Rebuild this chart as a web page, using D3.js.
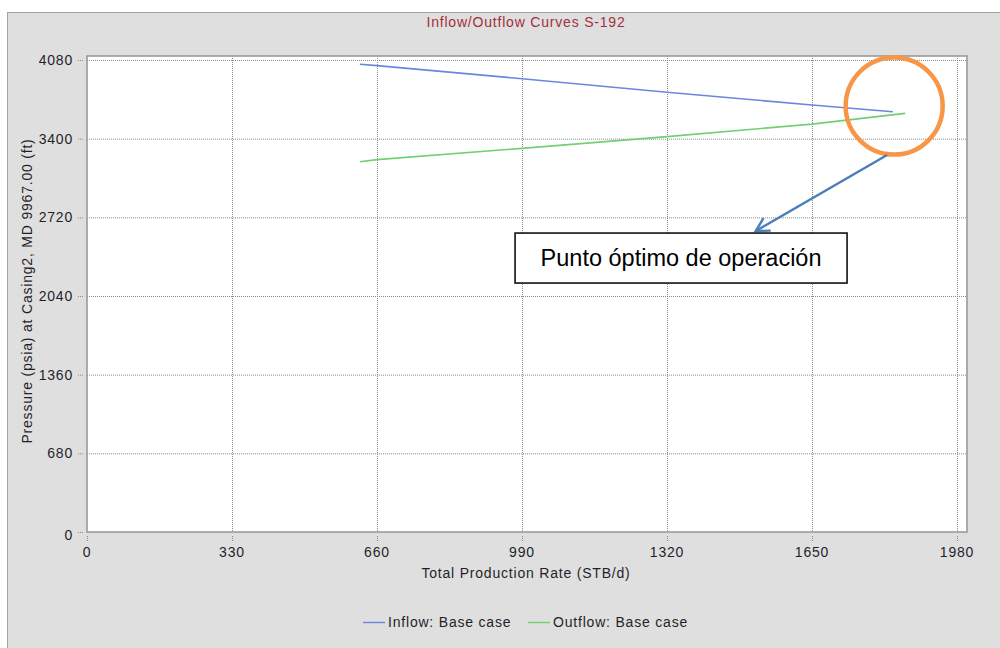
<!DOCTYPE html>
<html>
<head>
<meta charset="utf-8">
<script src="https://cdn.jsdelivr.net/npm/d3@7"></script>
<style>
  html, body { margin: 0; padding: 0; background: #ffffff; }
  svg { display: block; }
  text { font-family: "Liberation Sans", Arial, sans-serif; }
</style>
</head>
<body>
<svg id="chart" width="1000" height="648"></svg>
<script>
// ---- data ----
const title = "Inflow/Outflow Curves S-192";
const xTitle = "Total Production Rate (STB/d)";
const yTitle = "Pressure (psia) at Casing2, MD 9967.00 (ft)";
const xTicks = [0, 330, 660, 990, 1320, 1650, 1980];
const yTicks = [0, 680, 1360, 2040, 2720, 3400, 4080];
const inflowRate =     [621, 660, 990, 1320, 1650, 1834];
const inflowPressure = [4043, 4031, 3918, 3801, 3691, 3633];
const outflowRate =     [621, 660, 990, 1320, 1650, 1862];
const outflowPressure = [3201, 3219, 3316, 3418, 3526, 3619];
const seriesNames = ["Inflow: Base case", "Outflow: Base case"];
const annotationText = "Punto óptimo de operación";
// annotation anchors in data units
const circleCenter = [1837, 3682];
const arrowFrom = [1821, 3259];
const arrowTo = [1522, 2602];
const boxCenter = [1352, 2368];

// ---- layout ----
const svg = d3.select("#chart");
const W = 1000, H = 648;
const plot = { left: 87, top: 56, right: 967, bottom: 532 };
const colors = { inflow: "#6a86de", outflow: "#72d072" };

const x = d3.scaleLinear().domain([0, 1980]).range([87, 957]);
const y = d3.scaleLinear().domain([0, 4080]).range([532, 60]);

// background panel
svg.append("rect").attr("x", 0).attr("y", 0).attr("width", W).attr("height", H).attr("fill", "#ffffff");
svg.append("rect").attr("x", 7.5).attr("y", 12.5).attr("width", W).attr("height", H)
  .attr("fill", "#dfdfdf").attr("stroke", "#a3a3a3").attr("stroke-width", 1);

// plot area
svg.append("rect").attr("x", plot.left).attr("y", plot.top)
  .attr("width", plot.right - plot.left).attr("height", plot.bottom - plot.top)
  .attr("fill", "#ffffff");

// grid
const grid = svg.append("g");
grid.selectAll("line.v").data(xTicks.filter(d => d > 0)).join("line")
  .attr("x1", d => x(d) + 0.5).attr("x2", d => x(d) + 0.5)
  .attr("y1", plot.top).attr("y2", plot.bottom)
  .attr("stroke", "#8a8a8a").attr("stroke-width", 1).attr("stroke-dasharray", "1,1");
grid.selectAll("line.h").data(yTicks.filter(d => d > 0)).join("line")
  .attr("y1", d => y(d) + 0.5).attr("y2", d => y(d) + 0.5)
  .attr("x1", plot.left).attr("x2", plot.right)
  .attr("stroke", "#8a8a8a").attr("stroke-width", 1).attr("stroke-dasharray", "1,1");

// plot border
svg.append("rect").attr("x", plot.left).attr("y", plot.top)
  .attr("width", plot.right - plot.left).attr("height", plot.bottom - plot.top)
  .attr("fill", "none").attr("stroke", "#9a9a9a").attr("stroke-width", 1.6);

// axes (ticks outside, dotted)
const fontCfg = sel => sel.attr("font-size", 14).attr("letter-spacing", 0.8).attr("fill", "#1f1f2a");
const yAxis = svg.append("g");
yAxis.selectAll("line").data(yTicks).join("line")
  .attr("x1", 78).attr("x2", 84).attr("y1", d => y(d) + 0.5).attr("y2", d => y(d) + 0.5)
  .attr("stroke", "#888").attr("stroke-dasharray", "1,1");
yAxis.selectAll("text").data(yTicks).join("text")
  .attr("x", 73).attr("y", d => y(d) + (d === 0 ? 3 : 0)).attr("dy", "0.36em")
  .attr("text-anchor", "end").text(d => d).call(fontCfg);

const xAxis = svg.append("g");
xAxis.selectAll("line").data(xTicks).join("line")
  .attr("x1", d => x(d) + 0.5).attr("x2", d => x(d) + 0.5).attr("y1", 536).attr("y2", 542)
  .attr("stroke", "#888").attr("stroke-dasharray", "1,1");
xAxis.selectAll("text").data(xTicks).join("text")
  .attr("x", d => x(d)).attr("y", 557).attr("text-anchor", "middle").text(d => d).call(fontCfg);

// titles
svg.append("text").attr("x", 526).attr("y", 27).attr("text-anchor", "middle")
  .attr("font-size", 14).attr("letter-spacing", 0.8).attr("fill", "#a2303c").text(title);
svg.append("text").attr("x", 526).attr("y", 578).attr("text-anchor", "middle").text(xTitle).call(fontCfg);
svg.append("text").attr("transform", "translate(32,291) rotate(-90)").attr("text-anchor", "middle")
  .text(yTitle).call(fontCfg);

// series
const line = d3.line().x(d => x(d[0])).y(d => y(d[1]));
const inflow = inflowRate.map((r, i) => [r, inflowPressure[i]]);
const outflow = outflowRate.map((r, i) => [r, outflowPressure[i]]);
svg.append("path").datum(inflow).attr("d", line).attr("fill", "none")
  .attr("stroke", colors.inflow).attr("stroke-width", 1.6);
svg.append("path").datum(outflow).attr("d", line).attr("fill", "none")
  .attr("stroke", colors.outflow).attr("stroke-width", 1.6);

// legend
const legend = svg.append("g");
const legItems = [
  { name: seriesNames[0], color: colors.inflow, x: 363 },
  { name: seriesNames[1], color: colors.outflow, x: 528 }
];
legItems.forEach(it => {
  legend.append("line").attr("x1", it.x).attr("x2", it.x + 22).attr("y1", 622.5).attr("y2", 622.5)
    .attr("stroke", it.color).attr("stroke-width", 1.4);
  legend.append("text").attr("x", it.x + 25).attr("y", 627).text(it.name).call(fontCfg);
});

// annotation
const ann = svg.append("g");
ann.append("circle").attr("cx", x(circleCenter[0])).attr("cy", y(circleCenter[1])).attr("r", 48.5)
  .attr("fill", "none").attr("stroke", "#f79646").attr("stroke-width", 4.5);
const ax1 = x(arrowFrom[0]), ay1 = y(arrowFrom[1]), ax2 = x(arrowTo[0]), ay2 = y(arrowTo[1]);
ann.append("line").attr("x1", ax1).attr("y1", ay1).attr("x2", ax2).attr("y2", ay2)
  .attr("stroke", "#4a7ebb").attr("stroke-width", 2.4);
const ang = Math.atan2(ay1 - ay2, ax1 - ax2);
const hl = 15, spread = 0.5;
ann.append("path")
  .attr("d", `M${ax2 + hl * Math.cos(ang + spread)},${ay2 + hl * Math.sin(ang + spread)} L${ax2},${ay2} L${ax2 + hl * Math.cos(ang - spread)},${ay2 + hl * Math.sin(ang - spread)}`)
  .attr("fill", "none").attr("stroke", "#4a7ebb").attr("stroke-width", 2.4);
const bx = x(boxCenter[0]), by = y(boxCenter[1]);
ann.append("rect").attr("x", bx - 166).attr("y", by - 25).attr("width", 332).attr("height", 50)
  .attr("fill", "#ffffff").attr("stroke", "#111").attr("stroke-width", 1.6);
ann.append("text").attr("x", bx).attr("y", by + 8).attr("text-anchor", "middle")
  .attr("font-size", 23.5).attr("fill", "#000").text(annotationText);
</script>
</body>
</html>
